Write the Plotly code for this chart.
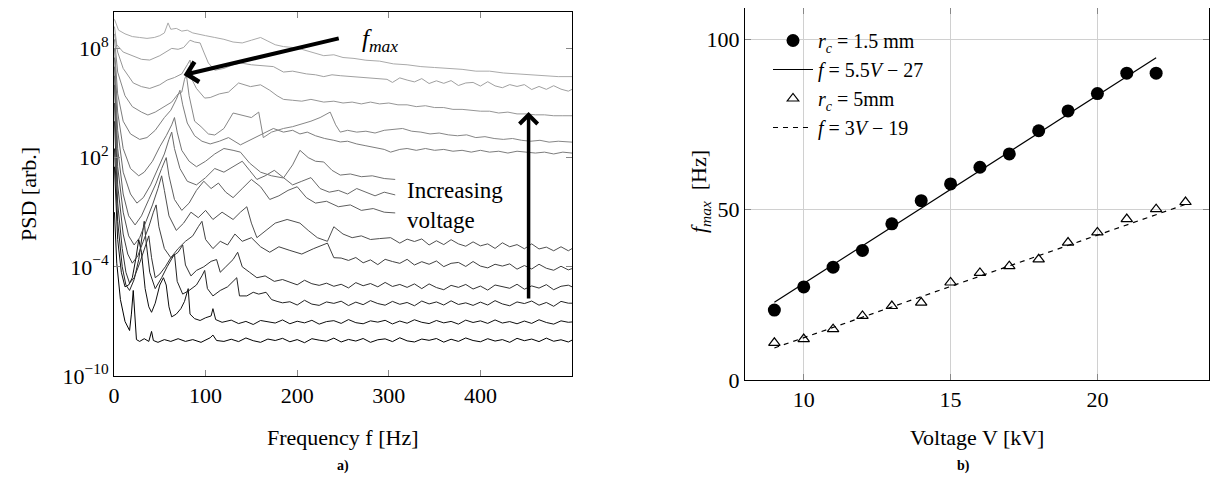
import plotly.graph_objects as go

# ---------------- Panel a) : PSD spectra (frequency [Hz], log10 PSD) ----------------
psd_c0 = [(0.5,-1.0),(3,-3.8),(7,-5.8),(12,-7.0),(17,-7.5),(19,-6.6),(21,-5.3),(22.5,-6.8),(24.5,-8.0),(28,-8.1),(33,-7.95),(38,-8.1),(41,-7.55),(43,-8.05),(48,-8.15),(55,-8.0),(62,-8.1),(70,-7.95),(78,-8.1),(86,-8.0),(95,-8.15),(105,-7.9),(108,-7.75),(112,-8.05),(120,-8.1),
          (128,-7.98),(136,-8.11),(144,-7.91),(152,-8.06),(160,-8.15),(168,-7.97),(176,-8.05),(184,-7.93),(192,-8.12),(200,-8.00),(208,-8.17),(216,-7.95),(224,-8.03),(232,-8.09),(240,-7.92),(248,-8.13),(256,-7.99),(264,-8.08),(272,-7.94),(280,-8.15),(288,-8.01),(296,-7.96),(304,-8.11),(312,-7.90),(320,-8.07),(328,-8.13),(336,-7.97),(344,-8.04),(352,-7.94),(360,-8.14),(368,-7.98),(376,-8.10),(384,-7.91),(392,-8.05),(400,-8.12),(408,-7.95),(416,-8.08),(424,-8.00),(432,-8.15),(440,-7.93),(448,-8.06),(456,-7.97),(464,-8.11),(472,-7.92),(480,-8.09),(488,-8.01),(496,-8.13),(500,-8.03)]
psd_c1 = [(0.5,1.5),(4,-2.5),(8,-4.3),(12,-5.1),(16,-5.0),(20,-4.6),(24,-3.5),(27,-2.5),(30,-3.2),(34,-5.2),(38,-6.2),(41,-6.5),(45,-6.0),(50,-5.0),(54,-4.6),(57,-5.0),(60,-6.2),(63,-6.75),(68,-6.6),(73,-6.3),(77,-5.9),(81,-5.2),(83,-6.6),(88,-6.85),(94,-6.95),(100,-6.8),(106,-6.7),(108,-6.3),(111,-6.9),(118,-7.05),
          (128,-6.93),(136,-7.12),(144,-7.00),(152,-7.17),(160,-6.95),(168,-7.03),(176,-7.09),(184,-6.92),(192,-7.13),(200,-6.99),(208,-7.08),(216,-6.94),(224,-7.15),(232,-7.01),(240,-6.96),(248,-7.11),(256,-6.90),(264,-7.07),(272,-7.13),(280,-6.97),(288,-7.04),(296,-6.94),(304,-7.14),(312,-6.98),(320,-7.10),(328,-6.91),(336,-7.05),(344,-7.12),(352,-6.95),(360,-7.08),(368,-7.00),(376,-7.15),(384,-6.93),(392,-7.06),(400,-6.97),(408,-7.11),(416,-6.92),(424,-7.09),(432,-7.01),(440,-7.13),(448,-6.98),(456,-7.11),(464,-6.91),(472,-7.06),(480,-7.15),(488,-6.97),(496,-7.05),(500,-7.03)]
psd_c2 = [(0.5,2.5),(4,-1.5),(9,-4.0),(13,-5.0),(17,-5.3),(22,-4.7),(27,-3.6),(31,-2.2),(33,-1.5),(35,-2.6),(39,-4.3),(45,-5.2),(52,-4.6),(58,-4.0),(63,-3.6),(66,-3.3),(69,-4.8),(75,-5.5),(82,-5.3),(90,-5.0),(96,-4.5),(99,-4.2),(102,-5.2),(108,-5.6),(116,-5.3),(124,-5.1),(130,-4.8),(134,-4.6),(137,-5.6),(145,-5.6),(152,-5.4),(158,-5.5),(166,-5.4),(172,-5.8),(178,-5.9),
          (184,-5.98),(192,-5.92),(200,-6.10),(208,-5.84),(216,-6.05),(224,-6.12),(232,-5.93),(240,-6.01),(248,-5.89),(256,-6.13),(264,-5.94),(272,-6.08),(280,-5.86),(288,-6.02),(296,-6.11),(304,-5.90),(312,-6.06),(320,-5.96),(328,-6.14),(336,-5.88),(344,-6.04),(352,-5.93),(360,-6.10),(368,-5.87),(376,-6.07),(384,-5.98),(392,-6.12),(400,-5.94),(408,-6.10),(416,-5.86),(424,-6.04),(432,-6.14),(440,-5.93),(448,-6.02),(456,-5.88),(464,-6.11),(472,-5.96),(480,-6.17),(488,-5.90),(496,-6.00),(500,-6.0)]
psd_c3 = [(0.5,4.0),(4,-0.5),(9,-3.0),(13,-4.3),(17,-4.9),(22,-4.6),(28,-3.8),(33,-3.0),(36,-2.6),(38,-2.3),(41,-3.5),(45,-4.6),(50,-4.4),(56,-4.0),(62,-3.5),(70,-3.2),(75,-2.8),(78,-3.9),(84,-4.5),(90,-4.2),(98,-4.0),(106,-3.7),(112,-3.6),(116,-4.3),(122,-4.0),(130,-3.6),(135,-3.2),(140,-4.0),(148,-4.3),(156,-4.6),(165,-4.5),(175,-4.8),(184,-4.7),
          (192,-4.84),(200,-4.99),(208,-4.74),(216,-4.93),(224,-5.02),(232,-4.90),(240,-5.07),(248,-4.96),(256,-5.16),(264,-4.87),(272,-5.04),(280,-4.92),(288,-5.10),(296,-4.86),(304,-5.08),(312,-4.97),(320,-5.13),(328,-4.94),(336,-5.20),(344,-4.94),(352,-5.14),(360,-5.26),(368,-5.02),(376,-5.13),(384,-4.97),(392,-5.22),(400,-5.06),(408,-5.28),(416,-5.00),(424,-5.10),(432,-5.18),(440,-4.96),(448,-5.23),(456,-5.05),(464,-5.17),(472,-4.98),(480,-5.26),(488,-5.07),(496,-5.01),(500,-5.1)]
psd_c4 = [(0.5,5.0),(4,0.5),(10,-2.2),(15,-3.3),(20,-3.8),(26,-3.4),(32,-2.6),(38,-1.8),(43,-1.0),(46,-0.6),(49,-1.8),(55,-3.0),(62,-3.5),(70,-3.0),(78,-2.6),(86,-2.3),(92,-1.8),(96,-1.5),(100,-2.5),(108,-3.0),(116,-2.6),(124,-2.8),(132,-2.2),(140,-2.6),(150,-2.4),(160,-2.9),(170,-3.2),(180,-2.9),(192,-3.1),(205,-3.3),(218,-3.0),(228,-2.8),(233,-2.7),(240,-3.5),
          (248,-3.52),(256,-3.65),(264,-3.49),(272,-3.78),(280,-3.62),(288,-3.88),(296,-3.59),(304,-3.71),(312,-3.81),(320,-3.59),(328,-3.90),(336,-3.72),(344,-3.86),(352,-3.68),(360,-3.99),(368,-3.81),(376,-3.76),(384,-3.98),(392,-3.71),(400,-3.96),(408,-4.06),(416,-3.86),(424,-3.96),(432,-3.84),(440,-4.13),(448,-3.93),(456,-4.12),(464,-3.86),(472,-4.08),(480,-4.19),(488,-3.97),(496,-4.17),(500,-4.1)]
psd_c5 = [(0.5,6.0),(4,1.5),(10,-1.0),(16,-2.3),(22,-2.8),(28,-2.4),(35,-1.5),(42,-0.6),(48,0.3),(52,1.0),(55,0.2),(60,-1.2),(68,-2.0),(76,-1.6),(84,-1.0),(92,-1.3),(100,-0.9),(108,-1.4),(118,-1.0),(130,-1.4),(138,-1.0),(145,-0.7),(150,-1.6),(156,-2.4),(166,-2.0),(176,-1.6),(189,-1.4),(203,-1.6),(212,-2.0),(222,-2.4),(233,-2.6),(240,-1.8),(250,-2.2),(260,-2.4),(270,-2.3),(280,-2.5),(290,-2.45),(302,-2.4),
          (312,-2.70),(320,-2.48),(328,-2.61),(336,-2.47),(344,-2.80),(352,-2.57),(360,-2.78),(368,-2.51),(376,-2.74),(384,-2.87),(392,-2.63),(400,-2.85),(408,-2.74),(416,-2.99),(424,-2.68),(432,-2.90),(440,-2.78),(448,-3.01),(456,-2.74),(464,-3.02),(472,-2.92),(480,-3.12),(488,-2.90),(496,-3.12),(500,-3.0)]
psd_c6 = [(0.5,6.5),(4,2.5),(10,0.0),(16,-1.2),(23,-1.7),(30,-1.2),(38,-0.3),(46,0.6),(52,1.4),(57,2.0),(60,1.0),(66,-0.3),(74,-0.9),(82,-0.5),(90,0.2),(98,0.7),(106,0.3),(114,0.6),(122,0.1),(130,-0.2),(140,0.3),(150,0.8),(160,0.4),(170,-0.3),(180,-0.1),(190,0.2),(200,0.4),(210,-0.2),(220,-0.5),(232,-0.4),(245,-0.7),(258,-0.6),(270,-0.9),(283,-0.8),(295,-1.0),(307,-1.04)]
psd_c7 = [(0.5,7.0),(4,3.5),(10,1.2),(18,0.0),(25,-0.5),(32,-0.2),(40,0.5),(48,1.4),(55,2.2),(60,3.0),(63,3.4),(66,2.5),(72,1.4),(80,0.7),(90,0.5),(100,0.9),(110,1.4),(120,1.2),(130,1.5),(140,1.8),(148,1.3),(156,0.8),(165,1.0),(175,1.3),(185,0.9),(195,0.5),(205,0.7),(215,0.9),(225,0.3),(235,0.1),(245,0.2),(255,0.0),(265,0.3),(275,0.1),(285,-0.1),(295,0.1),(307,-0.05)]
psd_c8 = [(0.5,7.5),(4,4.5),(10,2.5),(18,1.4),(27,1.0),(33,1.2),(42,1.8),(50,2.6),(57,3.2),(63,3.8),(66,4.2),(69,3.4),(74,2.4),(82,1.8),(90,1.5),(100,1.8),(110,2.2),(120,2.5),(130,2.4),(138,2.3),(148,1.7),(160,1.2),(172,1.0),(185,0.88),(195,1.6),(203,2.4),(212,2.0),(220,1.8),(229,1.76),(238,1.3),(247,1.04),(258,1.1),(270,0.95),(282,1.0),(295,0.85),(307,0.8)]
psd_c9 = [(0.5,8.0),(4,5.5),(10,4.0),(18,3.3),(28,3.0),(36,3.1),(45,3.5),(55,4.2),(62,4.6),(68,5.2),(72,5.7),(75,4.9),(80,3.9),(88,3.2),(96,2.9),(105,2.75),(115,2.9),(125,3.1),(138,2.7),(150,3.0),(162,3.3),(174,3.6),(185,3.4),(195,3.5),(203,3.3),(211,3.4),(220,3.2),(230,3.05),(240,2.95),(247,2.86),(255,2.9),(265,2.75),(275,2.65),(285,2.55),(295,2.45),(302,2.3),(312,2.45),(320,2.5),(330,2.4),(340,2.5),(350,2.4),(360,2.45),(370,2.35),(380,2.4),(390,2.3),(400,2.4),(410,2.3),(420,2.35),(430,2.25),(440,2.35),(450,2.3),(460,2.25),(470,2.3),(480,2.2),(490,2.3),(500,2.25)]
psd_c10 = [(0.5,8.5),(4,6.7),(12,5.4),(20,4.8),(30,4.5),(37,4.34),(45,4.5),(55,4.8),(63,5.05),(70,5.5),(74,5.6),(77,6.3),(79,6.55),(82,5.4),(88,4.0),(95,3.7),(103,3.3),(110,3.24),(120,3.6),(130,4.45),(138,4.34),(150,4.2),(158,4.5),(163,3.1),(172,3.4),(185,3.6),(195,3.7),(205,3.85),(215,4.0),(225,4.2),(236,4.5),(242,3.8),(247,3.4),(255,3.5),(265,3.4),(275,3.45),(285,3.35),(295,3.5),(305,3.55),(315,3.6),(325,3.45),(335,3.4),(345,3.3),(355,3.35),(365,3.25),(375,3.2),(385,3.25),(395,3.1),(405,3.15),(415,3.05),(425,3.0),(435,3.05),(445,2.95),(455,2.9),(465,2.95),(475,2.85),(485,2.9),(500,2.85)]
psd_c11 = [(0.5,8.8),(4,7.8),(10,6.9),(21,6.1),(30,5.9),(39,5.8),(50,6.0),(58,6.26),(66,6.4),(74,6.6),(80,7.1),(83,7.36),(86,6.2),(90,5.8),(99,5.27),(105,5.3),(115,5.5),(125,5.6),(136,6.1),(149,5.9),(160,6.0),(170,5.7),(178,5.4),(185,5.2),(195,5.15),(205,5.1),(215,5.2),(229,5.05),(240,5.1),(250,5.0),(260,5.05),(270,4.95),(280,5.05),(290,4.95),(300,5.0),(310,4.9),(320,4.9),(330,4.8),(340,4.85),(350,4.75),(360,4.75),(370,4.65),(380,4.65),(390,4.6),(400,4.55),(410,4.55),(420,4.45),(430,4.5),(440,4.4),(450,4.4),(460,4.35),(470,4.35),(480,4.3),(490,4.3),(500,4.3)]
psd_c12 = [(0.5,9.2),(3,8.2),(10,7.8),(20,7.6),(30,7.4),(39,7.36),(50,7.6),(63,8.0),(70,7.95),(76,8.05),(83,8.45),(88,8.35),(94,8.3),(98,7.8),(103,7.2),(110,6.8),(120,6.9),(130,7.1),(138,7.2),(150,7.1),(160,7.05),(174,7.0),(185,6.7),(195,6.75),(210,6.6),(220,6.55),(229,6.45),(238,6.55),(247,6.5),(260,6.45),(276,6.4),(290,6.35),(298,6.3),
           (304,6.13),(312,6.38),(320,6.26),(328,6.16),(336,6.34),(344,6.07),(352,6.22),(360,6.08),(368,6.23),(376,5.96),(384,6.10),(392,6.13),(400,5.93),(408,6.17),(416,5.94),(424,5.84),(432,6.01),(440,5.91),(448,6.01),(456,5.74),(464,5.91),(472,5.75),(480,5.95),(488,5.76),(496,5.65),(500,5.75)]
psd_c13 = [(0.5,9.6),(5,9.0),(12,8.8),(20,8.65),(28,8.6),(36,8.55),(44,8.6),(50,8.7),(55,8.85),(59,9.4),(62,9.05),(68,9.1),(74,8.95),(80,9.0),(86,8.85),(92,8.8),(100,8.7),(110,8.6),(120,8.5),(130,8.35),(140,8.3),(150,8.45),(160,8.6),(168,8.4),(176,8.2),(185,8.1),(195,8.05),(205,7.95),(215,7.8),(229,7.6),(240,7.65),(250,7.5),(262,7.45),(275,7.35),(290,7.3),(305,7.15),(320,7.1),(335,7.0),(350,6.95),(365,6.9),(380,6.85),(395,6.75),(410,6.75),(425,6.65),(440,6.6),(455,6.55),(470,6.5),(485,6.45),(500,6.45)]

psd_curves = [psd_c0, psd_c1, psd_c2, psd_c3, psd_c4, psd_c5, psd_c6,
              psd_c7, psd_c8, psd_c9, psd_c10, psd_c11, psd_c12, psd_c13]
curve_grays = [0, 15, 35, 50, 65, 80, 95, 105, 115, 125, 135, 150, 160, 170]

# ---------------- Panel b) : f_max vs voltage ----------------
volt_15 = [9, 10, 11, 12, 13, 14, 15, 16, 17, 18, 19, 20, 21, 22]
fmax_15 = [20.5, 27.3, 33.1, 38.0, 45.8, 52.6, 57.5, 62.4, 66.3, 73.1, 78.9, 84.0, 90.0, 90.0]
volt_5 = [9, 10, 11, 12, 13, 14, 15, 16, 17, 18, 19, 20, 21, 22, 23]
fmax_5 = [10.9, 12.0, 14.9, 18.8, 21.7, 22.7, 28.6, 31.4, 33.4, 35.4, 40.3, 43.3, 47.2, 50.1, 52.2]
fit15_v = [9, 22]
fit15_f = [22.8, 94.5]
fit5_v = [9, 23]
fit5_f = [9.4, 51.5]

FONT = "Liberation Serif"
OFF = 8                      # page body margin in the browser
W, H = 1218 - OFF, 495 - OFF
NB = "\u00a0"

fig = go.Figure()

for pts, g in zip(psd_curves, curve_grays):
    fx = [p[0] for p in pts]
    fy = [10 ** p[1] for p in pts]
    fig.add_trace(go.Scatter(x=fx, y=fy, mode="lines", xaxis="x", yaxis="y",
                             line=dict(color=f"rgb({g},{g},{g})", width=1),
                             showlegend=False, hoverinfo="skip"))

fig.add_trace(go.Scatter(x=volt_15, y=fmax_15, mode="markers", xaxis="x2", yaxis="y2",
                         marker=dict(symbol="circle", size=13, color="black"),
                         name=f"<i>r</i><sub><i>c</i></sub>{NB}={NB}1.5{NB}mm"))
fig.add_trace(go.Scatter(x=fit15_v, y=fit15_f, mode="lines", xaxis="x2", yaxis="y2",
                         line=dict(color="black", width=1.2),
                         name=f"<i>f</i>{NB}={NB}5.5<i>V</i>{NB}−{NB}27"))
fig.add_trace(go.Scatter(x=volt_5, y=fmax_5, mode="markers", xaxis="x2", yaxis="y2",
                         marker=dict(symbol="triangle-up-open", size=10, color="black",
                                     line=dict(width=1.2)),
                         name=f"<i>r</i><sub><i>c</i></sub>{NB}={NB}5mm"))
fig.add_trace(go.Scatter(x=fit5_v, y=fit5_f, mode="lines", xaxis="x2", yaxis="y2",
                         line=dict(color="black", width=1.2, dash="5px,5px"),
                         name=f"<i>f</i>{NB}={NB}3<i>V</i>{NB}−{NB}19"))

def px_x(px):
    return (px - OFF) / W

def px_y(py):
    return min(1.0, 1 - (py - OFF) / H)

axis_common = dict(showline=True, linecolor="black", linewidth=1, mirror="allticks",
                   ticks="inside", ticklen=6, tickcolor="#888888", zeroline=False,
                   automargin=False,
                   tickfont=dict(family=FONT, size=22, color="black"))

fig.update_layout(
    template="none",
    width=W, height=H, margin=dict(l=0, r=0, t=0, b=0, pad=0), autosize=False,
    paper_bgcolor="white", plot_bgcolor="white",
    font=dict(family=FONT, color="black"),
    xaxis=dict(domain=[px_x(114), px_x(572)], range=[0, 500], anchor="y",
               tickvals=[0, 100, 200, 300, 400], showgrid=False, **axis_common),
    yaxis=dict(domain=[px_y(376), px_y(12)], type="log", range=[-10, 10], anchor="x",
               tickvals=[1e-10, 1e-4, 1e2, 1e8],
               ticktext=["10<sup>−10</sup>", "10<sup>−4</sup>", "10<sup>2</sup>", "10<sup>8</sup>"],
               showgrid=False, **axis_common),
    xaxis2=dict(domain=[px_x(745), px_x(1209)], range=[8, 23.8], anchor="y2",
                tickvals=[10, 15, 20], showgrid=True, gridcolor="#d0d0d0", gridwidth=1,
                **axis_common),
    yaxis2=dict(domain=[px_y(380), px_y(8)], range=[0, 109.1], anchor="x2",
                tickvals=[0, 50, 100], showgrid=True, gridcolor="#d0d0d0", gridwidth=1,
                **axis_common),
    legend=dict(x=px_x(768), y=px_y(21), xanchor="left", yanchor="top",
                bgcolor="rgba(0,0,0,0)", borderwidth=0,
                font=dict(family=FONT, size=20, color="black"),
                itemwidth=40, tracegroupgap=0),
)

def paper_text(px, py, text, size, angle=0):
    return dict(x=px_x(px), y=px_y(py), xref="paper", yref="paper", text=text,
                textangle=angle, showarrow=False, xanchor="center", yanchor="middle",
                font=dict(size=size))

annotations = [
    paper_text(28, 194, "PSD [arb.]", 22, -90),
    paper_text(343, 437, "Frequency f [Hz]", 22),
    paper_text(700, 192, "<i>f</i><sub><i>max</i></sub>  [Hz]", 22, -90),
    paper_text(977, 437, "Voltage V [kV]", 22),
    paper_text(343, 466, "<b>a)</b>", 14),
    paper_text(963, 466, "<b>b)</b>", 14),
    # f_max arrow
    dict(x=76, y=6.54, xref="x", yref="y", ax=247, ay=8.57, axref="x", ayref="y",
         text="", showarrow=True, arrowhead=4, arrowsize=1, arrowwidth=4,
         arrowcolor="black", standoff=0, startstandoff=0),
    dict(x=290, y=8.46, xref="x", yref="y", text="<i>f</i><sub><i>max</i></sub>",
         showarrow=False, xanchor="center", yanchor="middle", font=dict(size=25)),
    # increasing voltage
    dict(x=318, y=-0.65, xref="x", yref="y", text="Increasing<br>voltage", align="left",
         xanchor="left", yanchor="middle", showarrow=False, font=dict(size=23)),
    dict(x=452.6, y=4.5, xref="x", yref="y", ax=452.6, ay=-5.82, axref="x", ayref="y",
         text="", showarrow=True, arrowhead=4, arrowsize=1, arrowwidth=3.5,
         arrowcolor="black", standoff=0, startstandoff=0),
]
fig.update_layout(annotations=annotations)

fig.write_html("out.html")
